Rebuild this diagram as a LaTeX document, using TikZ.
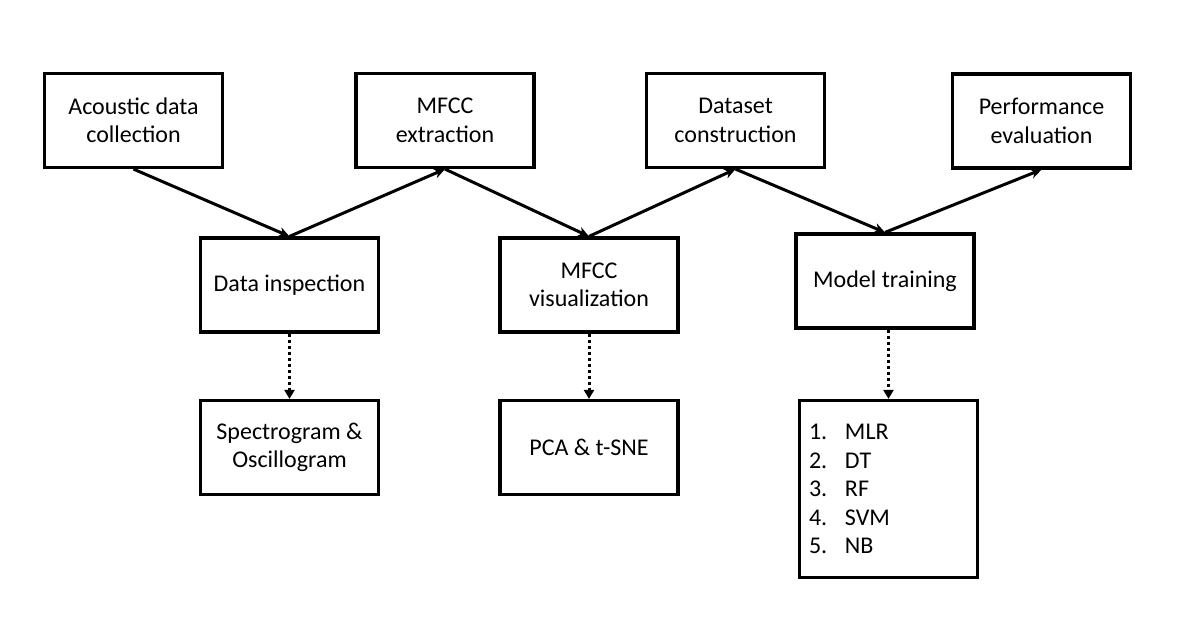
\documentclass[tikz,border=0pt]{standalone}
\usepackage{fontspec}
\setmainfont{Carlito}
\usetikzlibrary{arrows.meta}
\begin{document}
\begin{tikzpicture}[x=1pt,y=-1pt,
  stagebox/.style={draw=black,line width=3.2pt,fill=white,minimum width=178pt,minimum height=94pt,
    align=center,inner sep=2pt,font=\fontsize{24}{28.5}\selectfont},
  flowarrow/.style={line width=3pt,-{Stealth[length=11pt,width=10pt]}},
  dotarrow/.style={line width=3pt,dash pattern=on 3pt off 3pt,-{Triangle[length=9pt,width=10pt]}}]
\useasboundingbox (0,0) rectangle (1201,631);
\fill[white] (0,0) rectangle (1201,631);
\node[stagebox] (acq) at (133.5,120.5) {Acoustic data\\collection};
\node[stagebox] (mfcc) at (445,120.5) {MFCC\\extraction};
\node[stagebox] (dset) at (735.5,120.5) {Dataset\\construction};
\node[stagebox] (perf) at (1041.5,121) {Performance\\evaluation};
\node[stagebox] (insp) at (289.5,285) {Data inspection};
\node[stagebox] (mvis) at (589,285) {MFCC\\visualization};
\node[stagebox] (train) at (885,281) {Model training};
\node[stagebox] (spec) at (289.5,447.5) {Spectrogram \&\\Oscillogram};
\node[stagebox] (pca) at (589,447.5) {PCA \& t-SNE};
\node[stagebox,minimum height=177pt,text width=159pt,inner xsep=9.5pt,align=left] (models) at (888.5,489)
  {\makebox[36pt][l]{1.}MLR\\\makebox[36pt][l]{2.}DT\\\makebox[36pt][l]{3.}RF\\\makebox[36pt][l]{4.}SVM\\\makebox[36pt][l]{5.}NB};
\draw[flowarrow] (acq.south) -- (insp.north);
\draw[flowarrow] (insp.north) -- (mfcc.south);
\draw[flowarrow] (mfcc.south) -- (mvis.north);
\draw[flowarrow] (mvis.north) -- (dset.south);
\draw[flowarrow] (dset.south) -- (train.north);
\draw[flowarrow] (train.north) -- (perf.south);
\draw[dotarrow] (insp.south) -- (spec.north);
\draw[dotarrow] (mvis.south) -- (pca.north);
\draw[dotarrow] (models.north |- train.south) -- (models.north);
\end{tikzpicture}
\end{document}
